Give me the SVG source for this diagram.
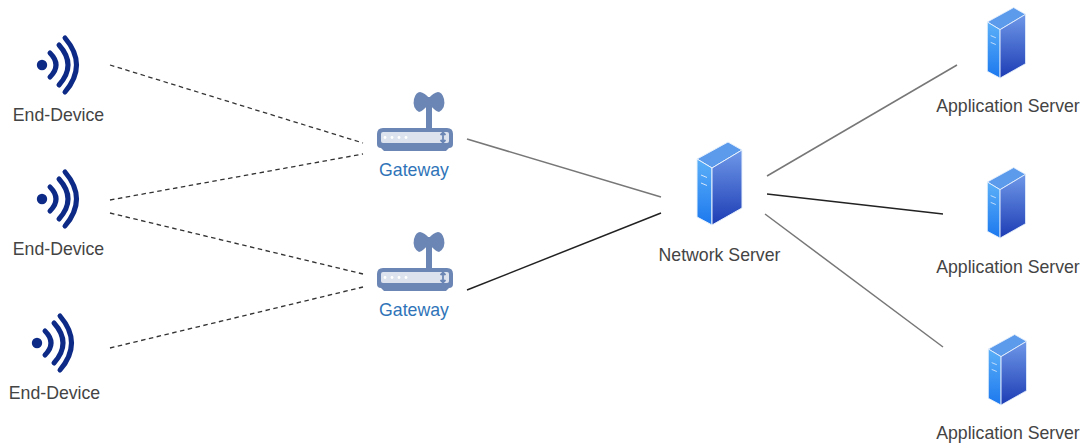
<svg xmlns="http://www.w3.org/2000/svg" width="1082" height="445" viewBox="0 0 1082 445">
<defs>
<linearGradient id="gf" x1="0" y1="0" x2="0" y2="1"><stop offset="0" stop-color="#5cb0f8"/><stop offset="1" stop-color="#1c78ee"/></linearGradient>
<linearGradient id="gs" x1="0" y1="0" x2="0" y2="1"><stop offset="0" stop-color="#6f98e8"/><stop offset="1" stop-color="#1c3cb4"/></linearGradient>
<g id="wifi">
<circle cx="0" cy="0" r="5.200" fill="#0d2a86"/>
<g fill="none" stroke="#0d2a86" stroke-width="5" stroke-linecap="round">
<path d="M8 -12Q20 0 8 12"/>
<path d="M17 -20Q35 0 17 20"/>
<path d="M23 -27Q46 0 23 27"/>
</g>
</g>
<g id="gw">
<path d="M14 -44V-12" stroke="#6b86b5" stroke-width="6" fill="none"/>
<path d="M14 -37Q8 -30 4 -29Q-3 -33 -1 -42Q1 -49 5 -49Q10 -48 14 -43Z" fill="#6b86b5"/>
<path d="M14 -37Q20 -30 24 -29Q31 -33 29 -42Q27 -49 23 -49Q18 -48 14 -43Z" fill="#6b86b5"/>
<path d="M-38 -7Q-38 -13 -32 -13H32Q38 -13 38 -7V3Q38 7 34 7H-34Q-38 7 -38 3Z" fill="#6b86b5"/>
<rect x="-34" y="-9" width="68" height="11" rx="2" fill="#dde3ee"/>
<path d="M-34 7H34L31 10H-31Z" fill="#6b86b5"/>
<g fill="#fff"><circle cx="-30" cy="-3.500" r="1.400"/><circle cx="-23" cy="-3.500" r="1.400"/><circle cx="-16" cy="-3.500" r="1.400"/><circle cx="-9" cy="-3.500" r="1.400"/></g>
<path d="M28 -8V1M25.500 -6L28 -8.500L30.500 -6M25.500 -1L28 1.500L30.500 -1" stroke="#6b86b5" stroke-width="1.800" fill="none"/>
</g>
<g id="srv">
<path d="M-22 -40L9 -57L23 -49L-7 -31Z" fill="#5c9aec" stroke="#e8f2fd" stroke-width="1"/>
<path d="M-22 -40L-7 -31V26L-22 18Z" fill="url(#gf)" stroke="#e8f2fd" stroke-width="1"/>
<path d="M-7 -31L23 -49V9L-7 26Z" fill="url(#gs)" stroke="#e8f2fd" stroke-width="1"/>
<path d="M-18 -24L-12 -21.500M-18 -16L-12 -13.500" stroke="#d5e6fb" stroke-width="1" fill="none"/>
</g>
</defs>
<style>
text{font-family:"Liberation Sans",Arial,sans-serif;font-size:17.700px;text-anchor:middle;fill:#444}
.b{fill:#2f74b8}
.d{fill:none;stroke:#333;stroke-width:1.300;stroke-dasharray:4.500 3.500}
.s{fill:none;stroke:#777;stroke-width:1.500}
.k{fill:none;stroke:#222;stroke-width:1.500}
</style>
<rect width="1082" height="445" fill="#fff"/>
<g id="connectors">
<path class="d" d="M110 65L363 143"/>
<path class="d" d="M110 200L363 154"/>
<path class="d" d="M110 213L363 274"/>
<path class="d" d="M110 348L363 287"/>
<path class="s" d="M467 139L661 197"/>
<path class="k" d="M467 290L661 213"/>
<path class="s" d="M767 176L957 65"/>
<path class="k" d="M767 194L943 214"/>
<path class="s" d="M765 214L943 347"/>
</g>
<g id="ed1"><use href="#wifi" x="42" y="65"/><text x="58.500" y="121">End-Device</text></g>
<g id="ed2"><use href="#wifi" x="42" y="199"/><text x="58.500" y="255">End-Device</text></g>
<g id="ed3"><use href="#wifi" x="37" y="343"/><text x="54.500" y="399">End-Device</text></g>
<g id="gw1"><use href="#gw" x="415" y="141"/><text class="b" x="414" y="176">Gateway</text></g>
<g id="gw2"><use href="#gw" x="415" y="281"/><text class="b" x="414" y="316">Gateway</text></g>
<g id="ns"><use href="#srv" x="719" y="199"/><text x="719.500" y="261">Network Server</text></g>
<g id="as1"><use href="#srv" transform="translate(1006 56) scale(.85)"/><text x="1008" y="112">Application Server</text></g>
<g id="as2"><use href="#srv" transform="translate(1006 216) scale(.85)"/><text x="1008" y="273">Application Server</text></g>
<g id="as3"><use href="#srv" transform="translate(1007 383) scale(.85)"/><text x="1008" y="439">Application Server</text></g>
</svg>
